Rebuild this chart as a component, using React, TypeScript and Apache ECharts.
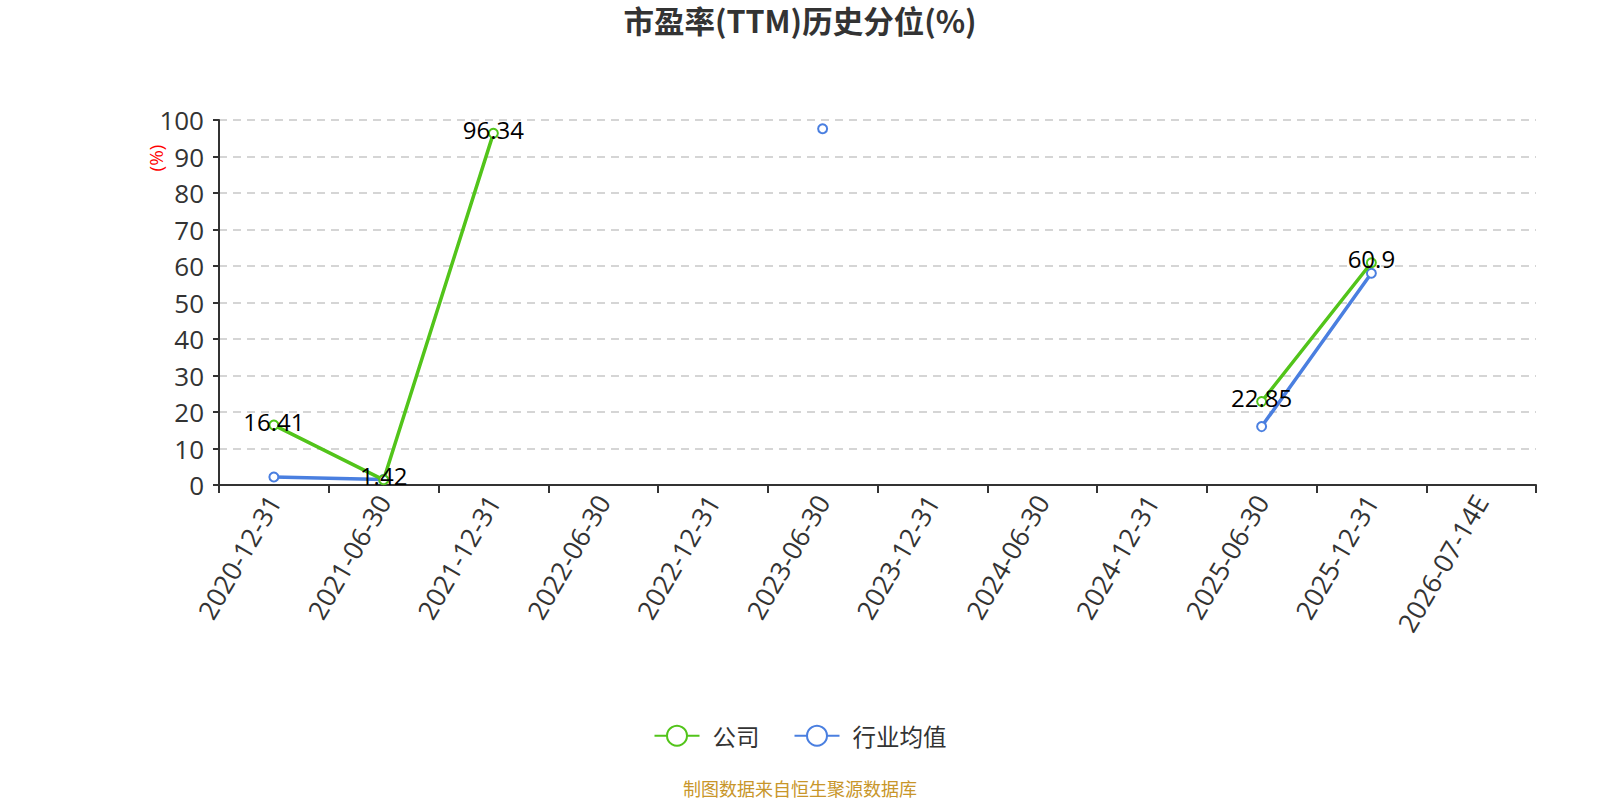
import React, { useEffect, useRef } from "react";
import * as echarts from "echarts";

const categories = [
  "2020-12-31", "2021-06-30", "2021-12-31", "2022-06-30", "2022-12-31", "2023-06-30",
  "2023-12-31", "2024-06-30", "2024-12-31", "2025-06-30", "2025-12-31", "2026-07-14E",
];
const companyValues: (number | null)[] = [16.41, 1.42, 96.34, null, null, null, null, null, null, 22.85, 60.9, null];
const industryValues: (number | null)[] = [2.2, 1.5, null, null, null, 97.6, null, null, null, 16.0, 58.0, null];

const FONT = "'Open Sans', 'Noto Sans CJK SC', sans-serif";
const CJK = "'Noto Sans CJK SC', sans-serif";

export default function App() {
  const ref = useRef<HTMLDivElement>(null);
  useEffect(() => {
    if (!ref.current) return;
    const chart = echarts.init(ref.current, undefined, { renderer: "svg" });
    chart.setOption({
      animation: false,
      textStyle: { fontFamily: FONT },
      title: {
        text: "市盈率(TTM)历史分位(%)",
        left: "center",
        top: 3,
        padding: 2,
        textStyle: { fontSize: 30.5, fontWeight: "bold", color: "#333", fontFamily: CJK },
      },
      grid: { left: 219, right: 64, top: 120, bottom: 315 },
      legend: {
        top: 719,
        left: "center",
        itemWidth: 45,
        itemHeight: 25,
        itemGap: 34,
        textStyle: { fontSize: 23.5, color: "#333", fontFamily: CJK, padding: [0, 0, 0, 8] },
        data: ["公司", "行业均值"],
      },
      graphic: [
        {
          type: "text",
          x: 156,
          y: 158,
          rotation: Math.PI / 2,
          style: {
            text: "(%)",
            fill: "#ff0000",
            fontSize: 19,
            fontFamily: FONT,
            align: "center",
            verticalAlign: "middle",
          },
        },
        {
          type: "text",
          left: "center",
          top: 779,
          style: {
            text: "制图数据来自恒生聚源数据库",
            fill: "#c8962a",
            fontSize: 18,
            fontFamily: CJK,
          },
        },
      ],
      xAxis: {
        type: "category",
        data: categories,
        boundaryGap: true,
        axisLine: { lineStyle: { color: "#333", width: 2 } },
        axisTick: { show: true, length: 8, lineStyle: { color: "#333", width: 2 } },
        axisLabel: { rotate: 60, fontSize: 26.5, color: "#333", margin: 12, interval: 0, fontFamily: FONT },
      },
      yAxis: {
        type: "value",
        min: 0,
        max: 100,
        interval: 10,
        axisLine: { show: true, lineStyle: { color: "#333", width: 2 } },
        axisTick: { show: true, length: 6, lineStyle: { color: "#333", width: 2 } },
        axisLabel: { fontSize: 26, color: "#333", margin: 15, fontFamily: FONT },
        splitLine: { show: true, lineStyle: { type: [8, 6], color: "#c8c8c8", width: 1.5 } },
      },
      series: [
        {
          name: "公司",
          type: "line",
          data: companyValues,
          symbol: "emptyCircle",
          symbolSize: 9,
          connectNulls: false,
          itemStyle: { color: "#52c41a", borderWidth: 2 },
          lineStyle: { width: 3.5, color: "#52c41a" },
          label: {
            show: true,
            position: "inside",
            offset: [0, -4],
            color: "#000",
            fontSize: 24,
            fontFamily: FONT,
          },
          z: 3,
        },
        {
          name: "行业均值",
          type: "line",
          data: industryValues,
          symbol: "emptyCircle",
          symbolSize: 9,
          connectNulls: false,
          itemStyle: { color: "#4a7fe0", borderWidth: 2 },
          lineStyle: { width: 3.5, color: "#4a7fe0" },
          label: { show: false },
          z: 2,
        },
      ],
    });
    return () => chart.dispose();
  }, []);
  return (
    <div
      ref={ref}
      style={{ position: "fixed", left: 0, top: 0, width: 1600, height: 800, background: "#fff" }}
    />
  );
}
